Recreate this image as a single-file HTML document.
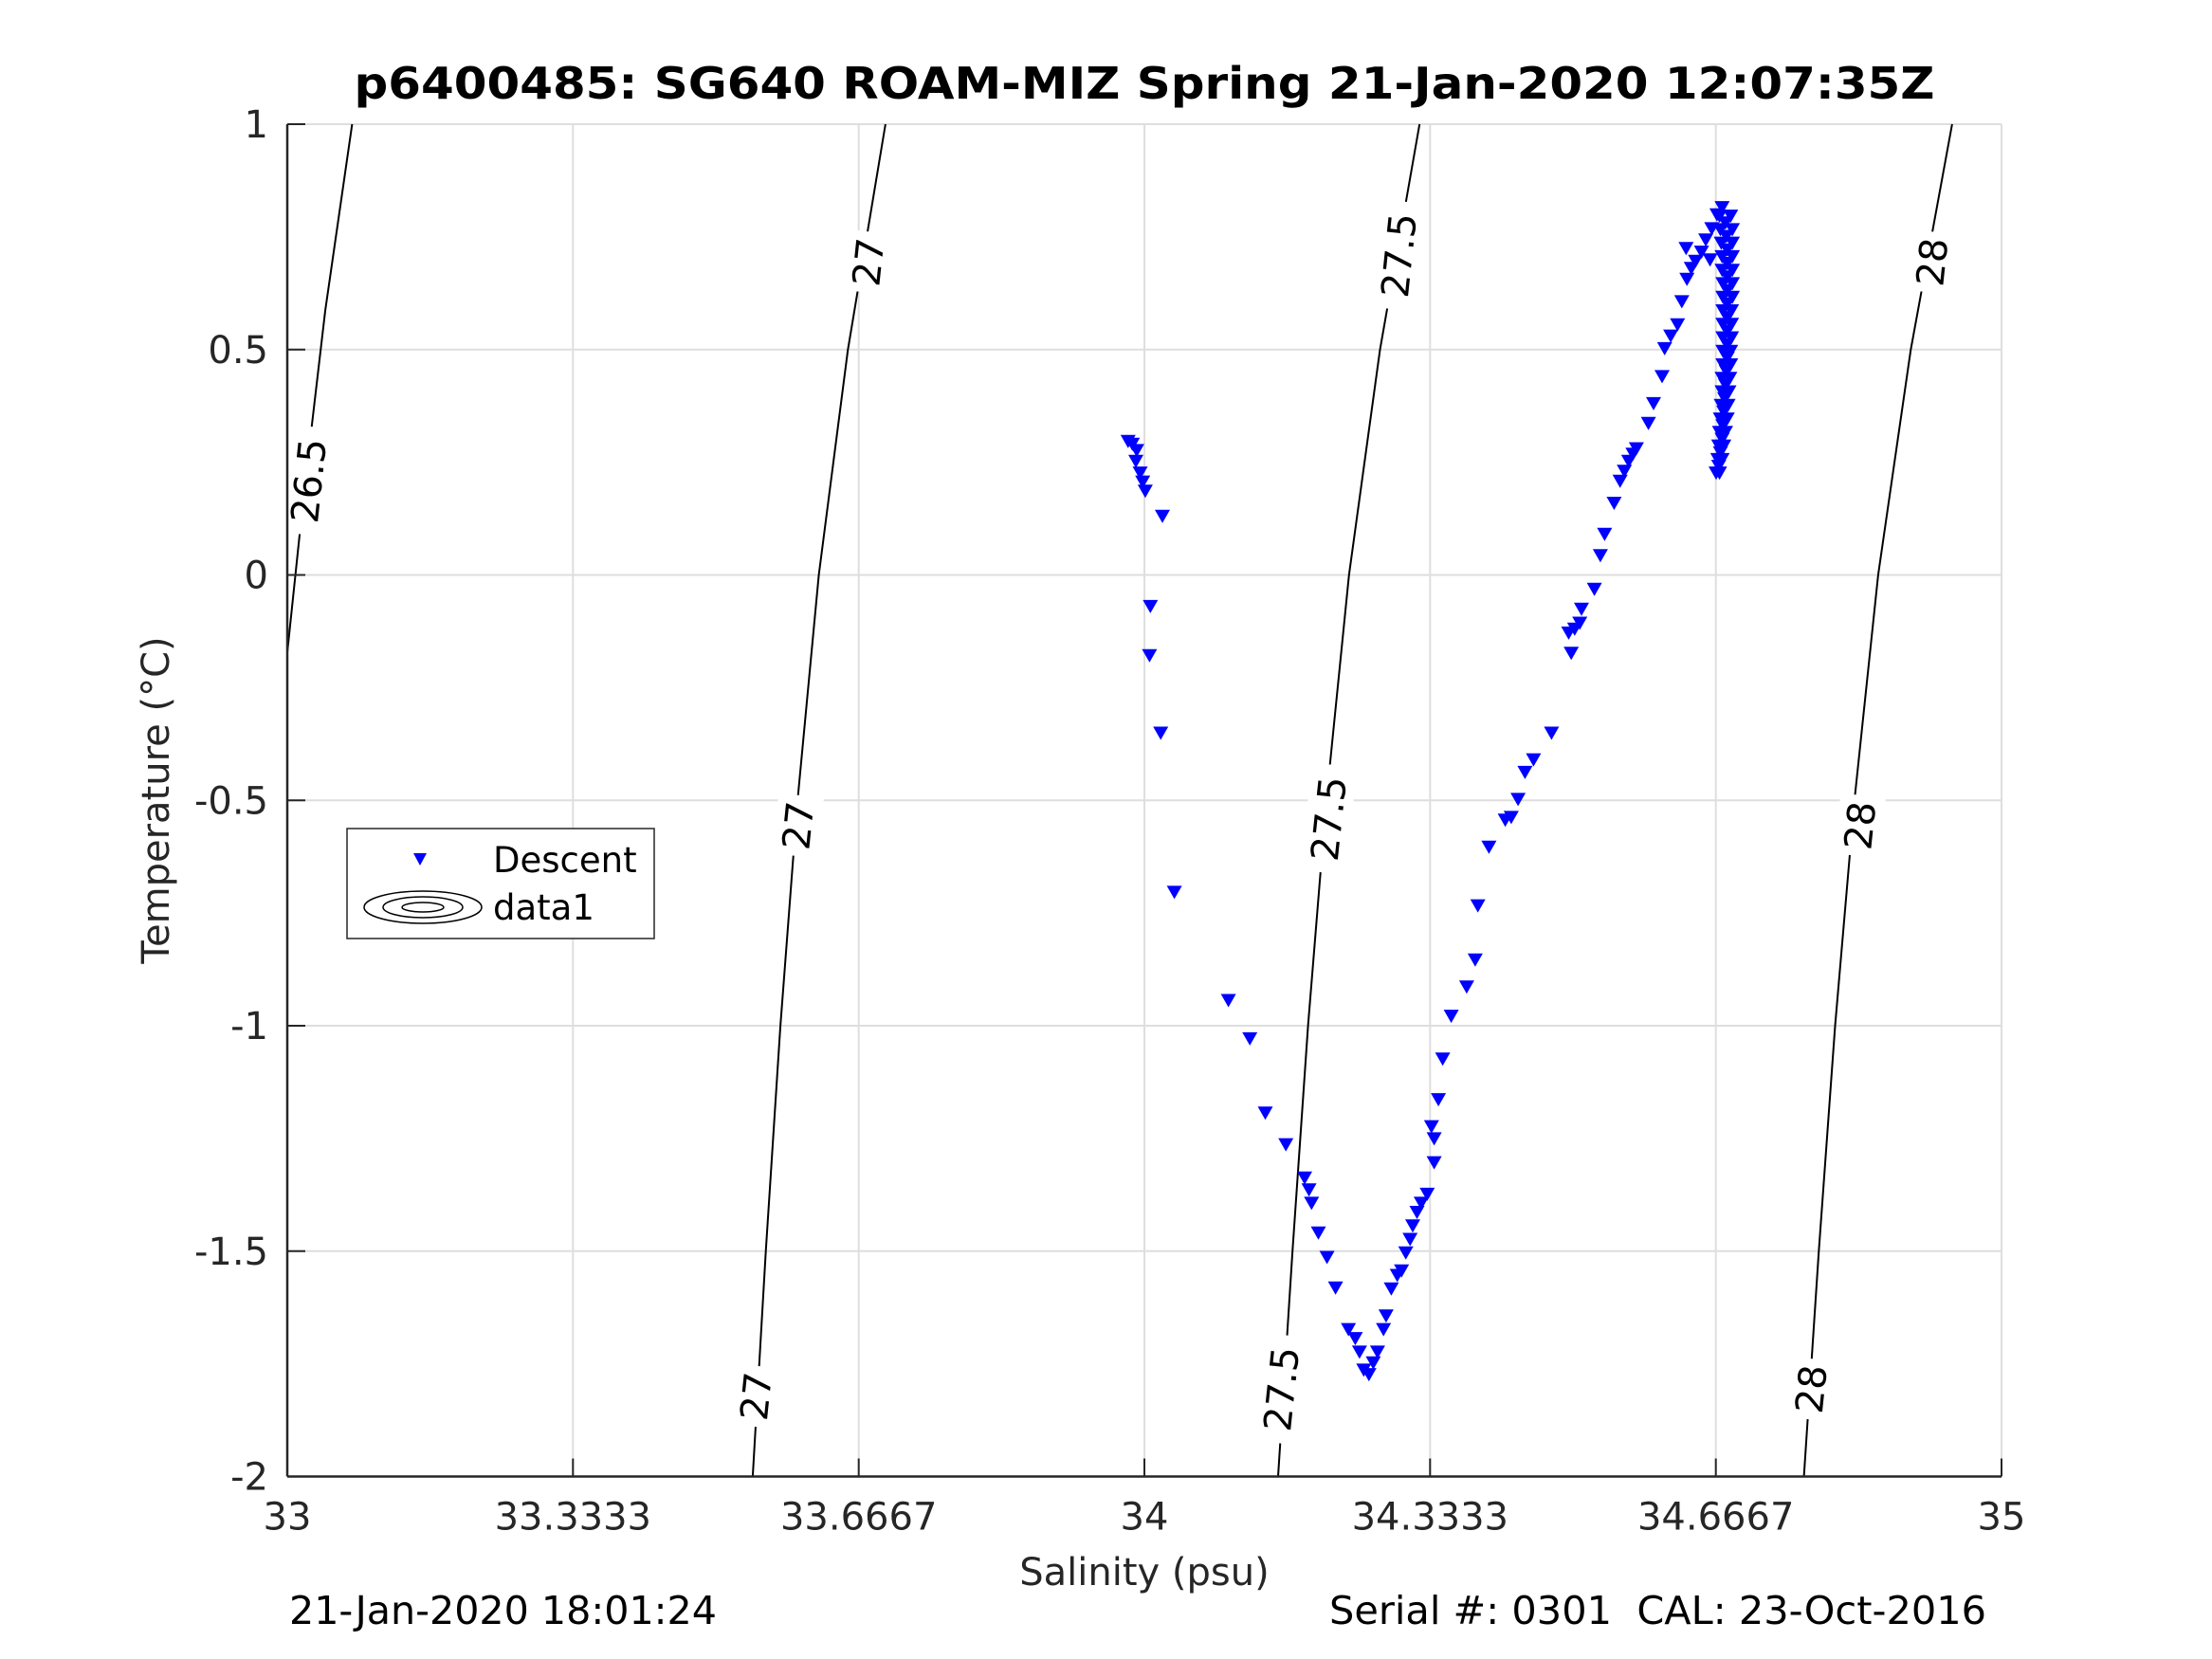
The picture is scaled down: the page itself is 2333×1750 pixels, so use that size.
<!DOCTYPE html>
<html><head><meta charset="utf-8"><style>
html,body{margin:0;padding:0;background:#fff;}
svg{display:block;font-family:"DejaVu Sans","Liberation Sans",sans-serif;}
</style></head><body>
<svg id="chart" width="2333" height="1750" viewBox="0 0 2333 1750" xmlns="http://www.w3.org/2000/svg">
<rect x="0" y="0" width="2333" height="1750" fill="#fff"/>
<text x="1207" y="104" text-anchor="middle" font-size="46" font-weight="bold" textLength="1667" lengthAdjust="spacingAndGlyphs">p6400485: SG640 ROAM-MIZ Spring 21-Jan-2020 12:07:35Z</text>
<g id="grid"></g>
<g id="contours"></g>
<g id="points"></g>
<g id="axes"></g>
<text x="1207" y="1672" text-anchor="middle" font-size="40" fill="#262626">Salinity (psu)</text>
<text transform="translate(178,844) rotate(-90)" text-anchor="middle" font-size="40" fill="#262626">Temperature (°C)</text>
<text x="305" y="1713" font-size="41" textLength="451" lengthAdjust="spacingAndGlyphs">21-Jan-2020 18:01:24</text>
<text x="2095" y="1713" text-anchor="end" font-size="41" xml:space="preserve" textLength="693" lengthAdjust="spacingAndGlyphs">Serial #: 0301  CAL: 23-Oct-2016</text>
<g>
<rect x="366" y="874" width="324" height="116" fill="#fff" stroke="#262626" stroke-width="1.5"/>
<path d="M436,900 L450,900 L443,913 Z" fill="#0000ff"/>
<text x="520" y="920" font-size="37">Descent</text>
<g fill="none" stroke="#000" stroke-width="1.5">
<ellipse cx="446" cy="957" rx="62" ry="17"/><ellipse cx="446" cy="957" rx="42" ry="11"/><ellipse cx="446" cy="957" rx="22" ry="5"/></g>
<text x="520" y="970" font-size="37">data1</text>
</g>
</svg>
<script>
const xTicks = [33, 33.3333, 33.6667, 34, 34.3333, 34.6667, 35];
const xTickLabels = ["33", "33.3333", "33.6667", "34", "34.3333", "34.6667", "35"];
const yTicks = [-2, -1.5, -1, -0.5, 0, 0.5, 1];
const yTickLabels = ["-2", "-1.5", "-1", "-0.5", "0", "0.5", "1"];
const salinity = [33.981,33.986,33.991,33.990,33.995,33.998,34.001,34.021,34.007,34.006,34.019,34.035,34.098,34.123,34.141,34.165,34.187,34.192,34.195,34.203,34.213,34.223,34.238,34.246,34.251,34.256,34.262,34.267,34.272,34.279,34.282,34.288,34.295,34.300,34.305,34.310,34.313,34.318,34.323,34.330,34.338,34.338,34.335,34.343,34.348,34.358,34.376,34.386,34.389,34.402,34.421,34.428,34.436,34.444,34.454,34.475,34.498,34.495,34.502,34.508,34.510,34.525,34.532,34.537,34.548,34.555,34.560,34.565,34.570,34.574,34.588,34.594,34.604,34.607,34.614,34.622,34.627,34.633,34.638,34.643,34.632,34.650,34.660,34.655,34.662,34.668,34.674,
34.671,34.672,34.673,34.674,34.674,34.675,34.675,34.675,34.675,34.675,34.675,34.675,34.674,34.674,34.673,34.672,34.671,34.670,34.669,34.667,
34.684,34.686,34.686,34.686,34.686,34.686,34.686,34.685,34.685,34.685,34.684,34.684,34.683,34.682,34.681,34.680,34.678,34.676,34.674,34.671,
34.678,34.679,34.680,34.680,34.680,34.680,34.680,34.680,34.680,34.680,34.680,34.679,34.678,34.677,34.676,34.675,34.674,34.672,34.670];
const temperature = [0.300,0.294,0.280,0.256,0.230,0.210,0.190,0.134,-0.066,-0.175,-0.347,-0.700,-0.940,-1.025,-1.190,-1.260,-1.334,-1.360,-1.390,-1.456,-1.510,-1.578,-1.670,-1.690,-1.720,-1.760,-1.770,-1.744,-1.720,-1.670,-1.640,-1.580,-1.550,-1.540,-1.500,-1.470,-1.440,-1.410,-1.390,-1.370,-1.300,-1.247,-1.220,-1.160,-1.070,-0.975,-0.910,-0.850,-0.730,-0.600,-0.540,-0.534,-0.494,-0.434,-0.406,-0.347,-0.170,-0.125,-0.116,-0.103,-0.072,-0.028,0.047,0.094,0.163,0.212,0.234,0.256,0.272,0.284,0.340,0.384,0.444,0.506,0.534,0.559,0.610,0.660,0.684,0.700,0.728,0.720,0.703,0.747,0.772,0.803,0.819,
0.80,0.77,0.74,0.71,0.68,0.65,0.62,0.59,0.56,0.53,0.50,0.47,0.44,0.41,0.38,0.35,0.32,0.29,0.26,0.23,
0.80,0.77,0.74,0.71,0.68,0.65,0.62,0.59,0.56,0.53,0.50,0.47,0.44,0.41,0.38,0.35,0.32,0.29,0.26,0.23,
0.785,0.755,0.725,0.695,0.665,0.635,0.605,0.575,0.545,0.515,0.485,0.455,0.425,0.395,0.365,0.335,0.305,0.275,0.245];
const c265S = [33, 33.0198, 33.0444, 33.0757];
const c265T = [-0.172, 0.1875, 0.5875, 1];
const c27S = [33.543,33.5583,33.5753,33.5954,33.6201,33.6541,33.6979];
const c27T = [-2,-1.5,-1,-0.5,0,0.5,1];
const c275S = [34.156,34.1728,34.1909,34.2123,34.2387,34.2749,34.3210];
const c275T = [-2,-1.5,-1,-0.5,0,0.5,1];
const c28S = [34.7695,34.7868,34.8059,34.8284,34.8561,34.8941,34.9424];
const c28T = [-2,-1.5,-1,-0.5,0,0.5,1];
const labelText = ["26.5","27","27","27","27.5","27.5","27.5","28","28","28"];
const labelS = [33.025,33.678,33.596,33.547,34.297,34.215,34.160,34.919,34.835,34.778];
const labelT = [0.209,0.694,-0.556,-1.822,0.709,-0.541,-1.806,0.694,-0.556,-1.806];

const L=303,R=2111,T=131,B=1557.5;
const xs = s => L + (s-33)/2*(R-L);
const ys = t => T + (1-t)/3*(B-T);
const NS="http://www.w3.org/2000/svg";
function mk(tag, parent, attrs){const e=document.createElementNS(NS,tag);for(const k in attrs)e.setAttribute(k,attrs[k]);parent.appendChild(e);return e;}
const grid=document.getElementById('grid'), axes=document.getElementById('axes'), cont=document.getElementById('contours'), pts=document.getElementById('points');
xTicks.forEach((v,i)=>{
  const x=xs(v);
  const g=mk('line',grid,{x1:x,x2:x,y1:T,y2:B,stroke:'#dedede','stroke-width':2});
  
  
  const tk=mk('line',axes,{x1:x,x2:x,y1:B,y2:B-19,stroke:'#262626','stroke-width':2});
  
  
  const tx=mk('text',axes,{x:x,y:B+56,'text-anchor':'middle','font-size':40,fill:'#262626'});
  tx.textContent=xTickLabels[i];
  
  
});
yTicks.forEach((v,i)=>{
  const y=ys(v);
  const g=mk('line',grid,{x1:L,x2:R,y1:y,y2:y,stroke:'#dedede','stroke-width':2});
  
  
  const tk=mk('line',axes,{x1:L,x2:L+19,y1:y,y2:y,stroke:'#262626','stroke-width':2});
  
  
  const tx=mk('text',axes,{x:L-20,y:y+14,'text-anchor':'end','font-size':40,fill:'#262626'});
  tx.textContent=yTickLabels[i];
  
  
});
const xa=mk('line',axes,{x1:L,x2:R,y1:B,y2:B,stroke:'#262626','stroke-width':2.5});


const ya=mk('line',axes,{x1:L,x2:L,y1:T,y2:B,stroke:'#262626','stroke-width':2.5});



[[c265S,c265T,'26.5'],[c27S,c27T,'27'],[c275S,c275T,'27.5'],[c28S,c28T,'28']].forEach(c=>{
  const d=c[0].map((s,i)=>(i?'L':'M')+xs(s).toFixed(1)+','+ys(c[1][i]).toFixed(1)).join(' ');
  const p=mk('path',cont,{d:d,fill:'none',stroke:'#000','stroke-width':2,'stroke-linejoin':'round'});
  
  
});
labelText.forEach((t,i)=>{
  const x=xs(labelS[i]), y=ys(labelT[i]);
  const g=mk('g',cont,{transform:`translate(${x.toFixed(1)},${y.toFixed(1)}) rotate(-84)`});
  
  
  const w=t.length*25+14;
  mk('rect',g,{x:-w/2,y:-24,width:w,height:48,fill:'#fff'});
  const tx=mk('text',g,{x:0,y:14,'text-anchor':'middle','font-size':40,fill:'#000'});
  tx.textContent=t;
});
salinity.forEach((s,i)=>{
  const x=xs(s), y=ys(temperature[i]);
  const p=mk('path',pts,{d:`M${(x-8).toFixed(1)},${(y-5).toFixed(1)} L${(x+8).toFixed(1)},${(y-5).toFixed(1)} L${x.toFixed(1)},${(y+9).toFixed(1)} Z`,fill:'#0000ff'});
  
  
});
</script>
</body></html>
